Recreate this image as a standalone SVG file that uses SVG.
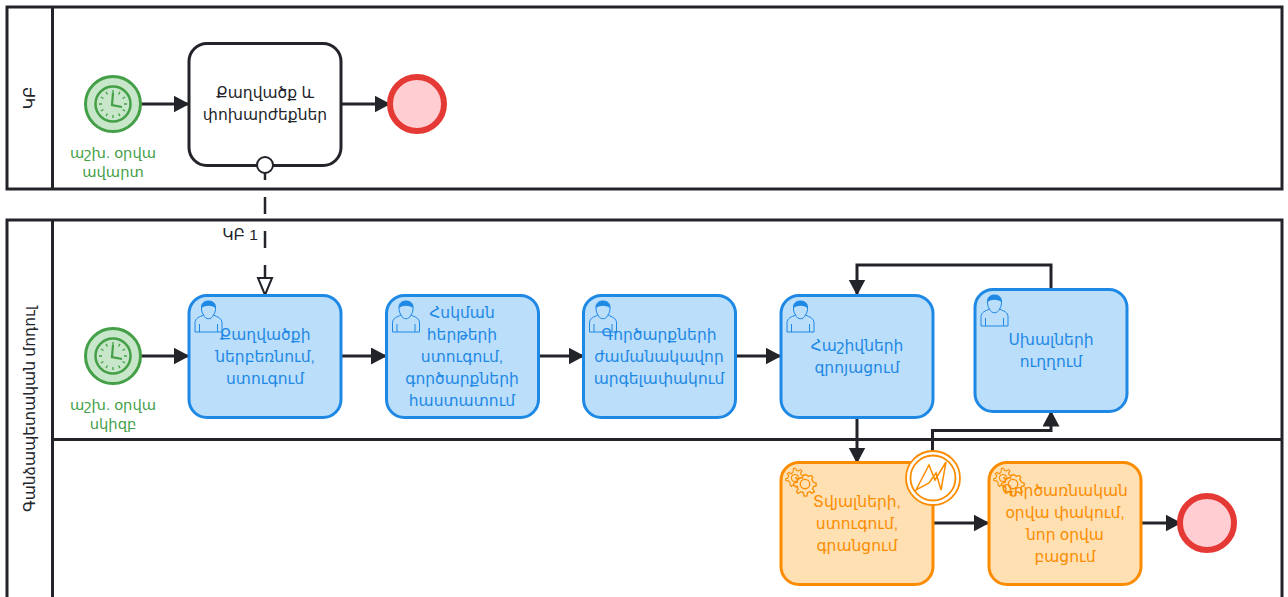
<svg xmlns="http://www.w3.org/2000/svg" width="1288" height="597" viewBox="0 0 1288 597">
<style>
text{font-family:"Liberation Sans","DejaVu Sans",sans-serif;font-size:15.5px;text-anchor:middle}
.lane{fill:#fff;stroke:#22242a;stroke-width:3}
.ln{fill:none;stroke:#22242a;stroke-width:3}
.conn{fill:none;stroke:#22242a;stroke-width:3}
.dash{stroke-width:2.5;stroke-dasharray:17 17}
.user{fill:#bbdefb;stroke:#1e88e5;stroke-width:3}
.utxt{fill:#1e88e5}
.svc{fill:#ffe0b2;stroke:#fb8c00;stroke-width:3}
.stxt{fill:#fb8c00}
.plain{fill:#fff;stroke:#22242a;stroke-width:3}
.ptxt{fill:#22242a}
.gtxt{fill:#43a047;font-size:14.7px}
.uic{fill:none;stroke:#1e88e5;stroke-width:1}
.gic{fill:none;stroke:#fb8c00;stroke-width:1.500}
</style>
<defs>
<marker id="arrow" markerUnits="userSpaceOnUse" markerWidth="18" markerHeight="18" refX="15.500" refY="8.500" orient="auto"><path d="M0 0L16 8.500L0 17Z" fill="#22242a"/></marker>
<marker id="open" markerUnits="userSpaceOnUse" markerWidth="20" markerHeight="20" refX="18" refY="9" orient="auto"><path d="M1 2L18 9L1 16Z" fill="#fff" stroke="#22242a" stroke-width="2"/></marker>
<g id="clock">
<circle r="27.500" fill="#c8e6c9" stroke="#43a047" stroke-width="3"/>
<circle r="17.500" fill="none" stroke="#43a047" stroke-width="2.500"/>
<path d="M0-14V-11M7-12.100L5.500-9.500M12.100-7L9.500-5.500M14 0H11M12.100 7L9.500 5.500M7 12.100L5.500 9.500M0 14V11M-7 12.100L-5.500 9.500M-12.100 7L-9.500 5.500M-14 0H-11M-12.100-7L-9.500-5.500M-7-12.100L-5.500-9.500" stroke="#43a047" stroke-width="1.300" fill="none"/>
<path d="M0-11L-1 1L9 3" stroke="#43a047" stroke-width="2.200" fill="none"/>
</g>
<g id="usr">
<path class="uic" d="M-13.500 16V7C-13.500 2-9 1-5 -1C-7-4-7-6-7-9C-7-13-4-15 0-15C4-15 7-13 7-9C7-6 7-4 5-1C9 1 13.500 2 13.500 7V16Z"/>
<path class="uic" d="M-9 16V8M9 16V8M-5 -1C-3 4 3 4 5 -1"/>
<path d="M-7-8C-7-13-4-15 0-15C4-15 7-13 7-8C3-11-3-11-7-8Z" fill="#1e88e5"/>
</g>
<g id="gear">
<g transform="scale(.7) translate(-1 3)">
<path class="gic" d="M-1-17L2-17L3-14L6-13L9-15L11-13L9-10L10-7L14-7L14-4L11-3L10 0L12 2L10 5L7 4L5 6L5 9L2 10L1 7L-2 7L-4 9L-6 7L-6 4L-8 1L-12 1L-12-2L-9-3L-8-6L-10-9L-8-11L-5-9L-2-11Z"/>
<circle class="gic" cx="1" cy="-3" r="5"/>
</g>
<g transform="translate(10 6) scale(.86) translate(-10 -7)">
<path d="M-1-1L2 2L4 0L7 0L8-3L11-4L14-2L17-3L19-1L18 2L20 5L23 6L23 9L20 10L19 13L21 16L18 18L16 16L13 17L12 21L9 21L8 17L5 16L2 18L0 16L2 13L1 10L-3 9L-3 6L1 5L1 2Z" fill="#ffe0b2" stroke="#fb8c00" stroke-width="1.500"/>
<circle class="gic" cx="10" cy="7" r="5.500"/>
</g>
</g>
</defs>

<g id="lane-kb">
<rect class="lane" x="7" y="7" width="1275" height="182"/>
<path class="ln" d="M52.500 7V189"/>
<text transform="translate(30 98) rotate(-90)" class="ptxt" dy="5">ԿԲ</text>
</g>
<g id="lane-treasury">
<rect class="lane" x="7" y="220" width="1275" height="400"/>
<path class="ln" d="M52.500 220V597M52.500 439.500H1282"/>
<text transform="translate(30 409) rotate(-90)" class="ptxt" dy="5">Գանձապետական մոդուլ</text>
</g>

<g id="connectors">
<path class="conn" d="M141 104H189" marker-end="url(#arrow)"/>
<path class="conn" d="M342 104H390" marker-end="url(#arrow)"/>
<path class="conn dash" d="M265 163V295" marker-end="url(#open)"/>
<path class="conn" d="M141 356H189" marker-end="url(#arrow)"/>
<path class="conn" d="M342 356H386.500" marker-end="url(#arrow)"/>
<path class="conn" d="M539 356H584" marker-end="url(#arrow)"/>
<path class="conn" d="M736 356H781" marker-end="url(#arrow)"/>
<path class="conn" d="M857 417V463" marker-end="url(#arrow)"/>
<path class="conn" d="M1051 289V265H857V295" marker-end="url(#arrow)"/>
<path class="conn" d="M932.500 451V430.500H1051V411" marker-end="url(#arrow)"/>
<path class="conn" d="M934 523H989" marker-end="url(#arrow)"/>
<path class="conn" d="M1141 523H1181" marker-end="url(#arrow)"/>
</g>

<g id="start-1"><use href="#clock" x="113" y="104"/><text class="gtxt" x="113" y="158">աշխ. օրվա</text><text class="gtxt" x="113" y="177">ավարտ</text></g>
<g id="task-statement"><rect class="plain" x="189" y="43.500" width="152" height="122" rx="18"/><text class="ptxt" x="265" y="98">Քաղվածք և</text><text class="ptxt" x="265" y="120">փոխարժեքներ</text><circle cx="265" cy="165" r="8" fill="#fff" stroke="#22242a" stroke-width="2"/></g>
<g id="end-1"><circle cx="417" cy="104" r="27" fill="#ffcdd2" stroke="#e53935" stroke-width="6"/></g>
<text class="ptxt" x="240" y="240">ԿԲ 1</text>

<g id="start-2"><use href="#clock" x="113" y="356"/><text class="gtxt" x="113" y="410">աշխ. օրվա</text><text class="gtxt" x="113" y="429">սկիզբ</text></g>
<g id="task-1"><rect class="user" x="189" y="295.500" width="152" height="122" rx="18"/><use href="#usr" x="208.500" y="316"/><text class="utxt" x="265" y="340">Քաղվածքի</text><text class="utxt" x="265" y="362">ներբեռնում,</text><text class="utxt" x="265" y="384">ստուգում</text></g>
<g id="task-2"><rect class="user" x="386.500" y="295.500" width="152" height="122" rx="18"/><use href="#usr" x="406" y="316"/><text class="utxt" x="462" y="318">Հսկման</text><text class="utxt" x="462" y="340">հերթերի</text><text class="utxt" x="462" y="362">ստուգում,</text><text class="utxt" x="462" y="384">գործարքների</text><text class="utxt" x="462" y="406">հաստատում</text></g>
<g id="task-3"><rect class="user" x="583.500" y="295.500" width="152" height="122" rx="18"/><use href="#usr" x="603" y="316"/><text class="utxt" x="659" y="340">Գործարքների</text><text class="utxt" x="659" y="362">ժամանակավոր</text><text class="utxt" x="659" y="384">արգելափակում</text></g>
<g id="task-4"><rect class="user" x="781" y="295.500" width="152" height="122" rx="18"/><use href="#usr" x="800.500" y="316"/><text class="utxt" x="857" y="351">Հաշիվների</text><text class="utxt" x="857" y="373">զրոյացում</text></g>
<g id="task-5"><rect class="user" x="975" y="289.500" width="152" height="122" rx="18"/><use href="#usr" x="994.500" y="310"/><text class="utxt" x="1051" y="345">Սխալների</text><text class="utxt" x="1051" y="367">ուղղում</text></g>
<g id="task-6"><rect class="svc" x="781" y="462.500" width="152" height="122" rx="18"/><use href="#gear" x="795" y="478"/><text class="stxt" x="857" y="507">Տվյալների,</text><text class="stxt" x="857" y="529">ստուգում,</text><text class="stxt" x="857" y="551">գրանցում</text></g>
<g id="task-7"><rect class="svc" x="989" y="462.500" width="152" height="122" rx="18"/><use href="#gear" x="1003" y="478"/><text class="stxt" x="1065" y="496">Գործառնական</text><text class="stxt" x="1065" y="518">օրվա փակում,</text><text class="stxt" x="1065" y="540">նոր օրվա</text><text class="stxt" x="1065" y="562">բացում</text></g>
<g id="boundary-error"><circle cx="933" cy="478" r="27" fill="#fff" stroke="#fb8c00" stroke-width="1.800"/><circle cx="933" cy="478" r="22.500" fill="none" stroke="#fb8c00" stroke-width="1.800"/><path d="M916 490L929 465L935 480L946 462L941 490L936 473L929 483Z" fill="none" stroke="#fb8c00" stroke-width="1.500"/></g>
<g id="end-2"><circle cx="1207" cy="523" r="27" fill="#ffcdd2" stroke="#e53935" stroke-width="6"/></g>
</svg>
